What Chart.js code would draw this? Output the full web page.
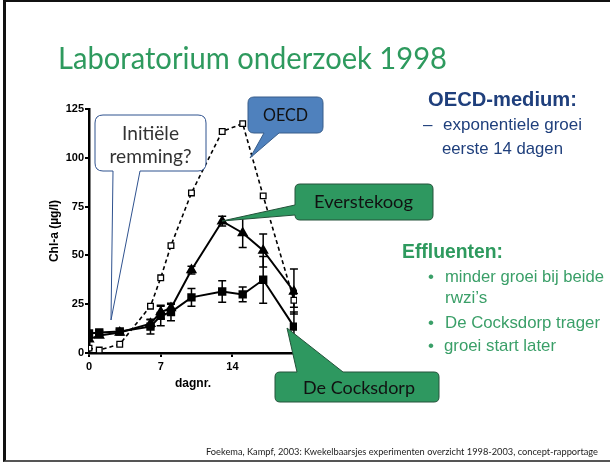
<!DOCTYPE html>
<html>
<head>
<meta charset="utf-8">
<script src="https://cdn.jsdelivr.net/npm/chart.js@4.4.1/dist/chart.umd.min.js"></script>
<style>
  html, body { margin: 0; padding: 0; background: #fff; }
  #slide { position: relative; width: 610px; height: 462px; overflow: hidden; background: #fff; }
  #frame { position: absolute; left: 3px; top: 0; width: 620px; height: 458px;
           border-left: 3px solid #111; border-top: 2px solid #111; border-bottom: 2px solid #555; }
  #chart { position: absolute; left: 30px; top: 100px; }
  #overlay { position: absolute; left: 0; top: 0; }
</style>
</head>
<body>
<div id="slide">
  <div id="frame"></div>
  <canvas id="chart" width="280" height="295"></canvas>
  <svg id="overlay" width="610" height="462" xmlns="http://www.w3.org/2000/svg">
    <!-- titel -->
    <text x="58" y="69" font-family="Lato" font-size="31" fill="#2e9a5e" textLength="389" lengthAdjust="spacingAndGlyphs">Laboratorium onderzoek 1998</text>

    <!-- rechterkolom -->
    <text x="428" y="106" font-family="Liberation Sans" font-weight="bold" font-size="20" fill="#1f3f7c" textLength="149" lengthAdjust="spacingAndGlyphs">OECD-medium:</text>
    <text x="423" y="130" font-family="Liberation Sans" font-size="17" fill="#1f3f7c">–</text>
    <text x="443" y="130" font-family="Liberation Sans" font-size="17" fill="#1f3f7c" textLength="139" lengthAdjust="spacingAndGlyphs">exponentiele groei</text>
    <text x="442" y="154" font-family="Liberation Sans" font-size="17" fill="#1f3f7c" textLength="121" lengthAdjust="spacingAndGlyphs">eerste 14 dagen</text>

    <text x="402" y="258" font-family="Liberation Sans" font-weight="bold" font-size="20" fill="#2e9a5e" textLength="101" lengthAdjust="spacingAndGlyphs">Effluenten:</text>
    <g font-family="Liberation Sans" font-size="17" fill="#3a9f68">
      <text x="428" y="282">•</text>
      <text x="445" y="282" textLength="159" lengthAdjust="spacingAndGlyphs">minder groei bij beide</text>
      <text x="445" y="303">rwzi’s</text>
      <text x="428" y="328">•</text>
      <text x="445" y="328" textLength="155" lengthAdjust="spacingAndGlyphs">De Cocksdorp trager</text>
      <text x="428" y="351">•</text>
      <text x="444" y="351" textLength="112" lengthAdjust="spacingAndGlyphs">groei start later</text>
    </g>

    <!-- callouts -->
    <path d="M103,115 H198 Q206,115 206,123 V163 Q206,171 198,171 H140 L111,320 L113,171 H103 Q95,171 95,163 V123 Q95,115 103,115 Z"
          fill="#fff" stroke="#2f528f" stroke-width="1"/>
    <text x="150.5" y="140" text-anchor="middle" font-family="Lato" font-size="18.5" fill="#333" textLength="57" lengthAdjust="spacingAndGlyphs">Initiële</text>
    <text x="150.5" y="163" text-anchor="middle" font-family="Lato" font-size="18.5" fill="#333" textLength="82" lengthAdjust="spacingAndGlyphs">remming?</text>

    <path d="M254,97 H317 Q323,97 323,103 V127 Q323,133 317,133 H279 L250,158 L264,133 H254 Q248,133 248,127 V103 Q248,97 254,97 Z"
          fill="#4f81bd" stroke="#385d8a" stroke-width="1"/>
    <text x="285.5" y="121" text-anchor="middle" font-family="Lato" font-size="17" fill="#111" textLength="45" lengthAdjust="spacingAndGlyphs">OECD</text>

    <path d="M300,184 H428 Q433,184 433,189 V215 Q433,220 428,220 H300 Q295,220 295,215 L222,221 L295,205 V189 Q295,184 300,184 Z"
          fill="#2e9860" stroke="#24523a" stroke-width="1"/>
    <text x="363.5" y="208" text-anchor="middle" font-family="Lato" font-size="17" fill="#111" textLength="99" lengthAdjust="spacingAndGlyphs">Everstekoog</text>

    <path d="M275,377 Q275,372 280,372 H297 L287,328 L343,372 H434 Q439,372 439,377 V397 Q439,402 434,402 H280 Q275,402 275,397 Z"
          fill="#2e9860" stroke="#24523a" stroke-width="1"/>
    <text x="359" y="394" text-anchor="middle" font-family="Lato" font-size="17" fill="#111" textLength="112" lengthAdjust="spacingAndGlyphs">De Cocksdorp</text>

    <!-- bron -->
    <text x="206" y="455" font-family="Lato" font-size="8.5" fill="#222" textLength="392" lengthAdjust="spacingAndGlyphs">Foekema, Kampf, 2003: Kwekelbaarsjes experimenten overzicht 1998-2003, concept-rapportage</text>
  </svg>
</div>

<script>
var days = [0, 1, 3, 6, 7, 8, 10, 13, 15, 17, 20];
var oecd = [2.5, 1.5, 4.5, 24, 38.5, 55, 82, 113.5, 117.5, 80.5, 27];
var oecdErr = [0, 0, 0, 0, 0, 0, 0, 0, 0, 0, 3.5];
var everstekoog = [7, 9, 10.5, 15, 21, 23, 42.5, 67.5, 61.5, 52.5, 31.5];
var everstekoogErr = [0, 0, 0, 2, 3.5, 2, 2, 2.5, 7.5, 8.5, 11.5];
var cocksdorp = [10, 10.5, 11, 13.5, 19, 21, 28.5, 31.5, 30, 37.5, 13.5];
var cocksdorpErr = [0, 1, 1, 3.8, 5, 4.5, 4.5, 5.5, 3.8, 12, 7.5];
var xTicks = [0, 7, 14];
var yTicks = [0, 25, 50, 75, 100, 125];

function toPoints(vals) {
    return days.map(function(d, i) { return { x: d, y: vals[i] }; });
}

// foutbalken tekenen via de schalen van de grafiek
var errorBars = {
    id: 'errorBars',
    beforeDatasetsDraw: function(chart) {
        var ctx = chart.ctx;
        var xs = chart.scales.x, ys = chart.scales.y;
        ctx.save();
        ctx.strokeStyle = '#000';
        ctx.lineWidth = 1.5;
        chart.data.datasets.forEach(function(ds) {
            if (!ds.errors) return;
            ds.data.forEach(function(p, i) {
                var e = ds.errors[i];
                if (!e) return;
                var x = xs.getPixelForValue(p.x);
                var top = ys.getPixelForValue(p.y + e);
                var bot = ys.getPixelForValue(Math.max(0, p.y - e));
                ctx.beginPath();
                ctx.moveTo(x, top); ctx.lineTo(x, bot);
                ctx.moveTo(x - 4, top); ctx.lineTo(x + 4, top);
                ctx.moveTo(x - 4, bot); ctx.lineTo(x + 4, bot);
                ctx.stroke();
            });
        });
        ctx.restore();
    }
};

var axisFont = { family: 'Liberation Sans', weight: 'bold', size: 11 };
var titleFont = { family: 'Liberation Sans', weight: 'bold', size: 12 };

new Chart(document.getElementById('chart'), {
    type: 'line',
    data: {
        datasets: [
            {
                label: 'OECD',
                data: toPoints(oecd),
                errors: oecdErr,
                borderColor: '#000',
                borderWidth: 1.6,
                borderDash: [4, 3],
                pointStyle: 'rect',
                pointRadius: 4,
                pointBackgroundColor: '#fff',
                pointBorderColor: '#000',
                pointBorderWidth: 1.3,
                fill: false
            },
            {
                label: 'Everstekoog',
                data: toPoints(everstekoog),
                errors: everstekoogErr,
                borderColor: '#000',
                borderWidth: 2,
                pointStyle: 'triangle',
                pointRadius: 4.5,
                pointBackgroundColor: '#000',
                pointBorderColor: '#000',
                fill: false
            },
            {
                label: 'De Cocksdorp',
                data: toPoints(cocksdorp),
                errors: cocksdorpErr,
                borderColor: '#000',
                borderWidth: 2,
                pointStyle: 'rect',
                pointRadius: 4.5,
                pointBackgroundColor: '#000',
                pointBorderColor: '#000',
                fill: false
            }
        ]
    },
    options: {
        responsive: false,
        animation: false,
        devicePixelRatio: 1,
        layout: { padding: { top: 9, right: 13, left: 0, bottom: 0 } },
        plugins: { legend: { display: false }, tooltip: { enabled: false } },
        scales: {
            x: {
                type: 'linear',
                min: 0,
                max: 20.3,
                afterBuildTicks: function(s) { s.ticks = xTicks.map(function(v) { return { value: v }; }); },
                afterFit: function(s) { s.height = 42; },
                ticks: { font: axisFont, color: '#000', padding: 3, maxRotation: 0 },
                grid: { drawOnChartArea: false, drawTicks: true, tickLength: 4, color: '#000', lineWidth: 2 },
                border: { color: '#000', width: 2.5 },
                title: { display: true, text: 'dagnr.', font: titleFont, color: '#000', padding: { top: 0, bottom: 4 } }
            },
            y: {
                min: 0,
                max: 125,
                afterBuildTicks: function(s) { s.ticks = yTicks.map(function(v) { return { value: v }; }); },
                afterFit: function(s) { s.width = 59; },
                ticks: { font: axisFont, color: '#000', padding: 1 },
                grid: { drawOnChartArea: false, drawTicks: true, tickLength: 4, color: '#000', lineWidth: 2 },
                border: { color: '#000', width: 2.5 },
                title: { display: true, text: 'Chl-a (µg/l)', font: titleFont, color: '#000', padding: { top: 17, bottom: 0 } }
            }
        }
    },
    plugins: [errorBars]
});
</script>
</body>
</html>
